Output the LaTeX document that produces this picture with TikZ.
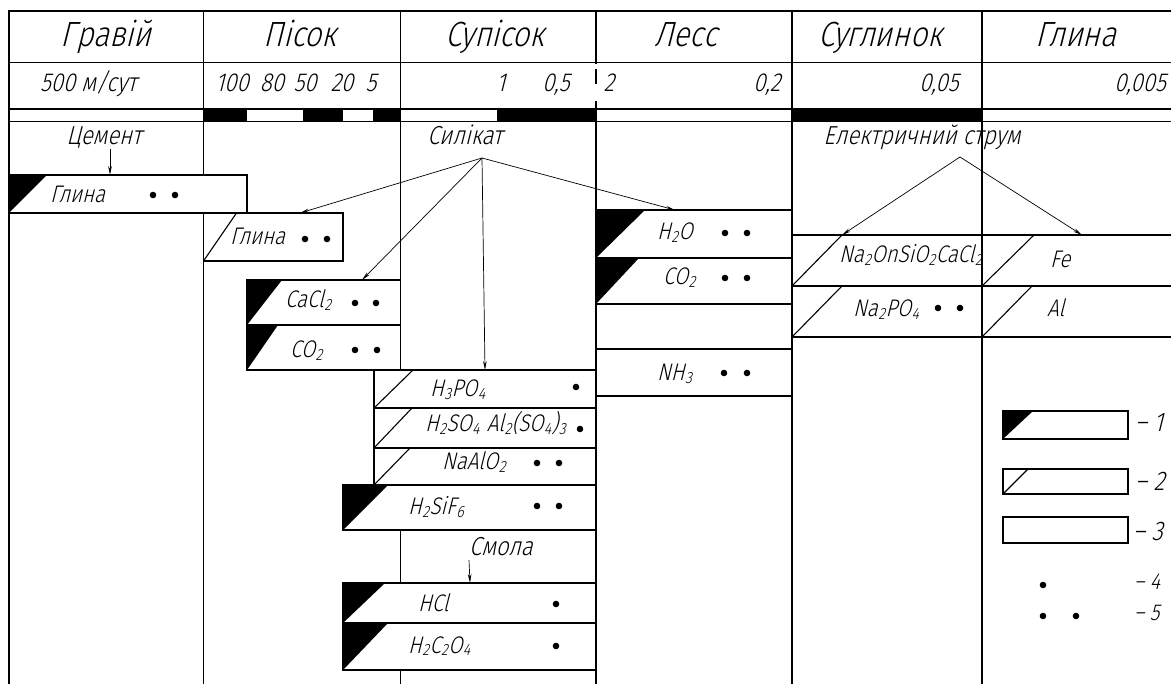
\documentclass[tikz,border=0pt]{standalone}
\usepackage{fontspec}
\IfFontExistsTF{Fira Sans Light}
  {\setmainfont{Fira Sans Light}[FakeSlant=0.25,FakeStretch=0.85]}
  {\setmainfont{Liberation Sans}[FakeSlant=0.25,FakeStretch=0.8]}
\usetikzlibrary{arrows.meta,fit}

% small lowered index for chemical formulas
\newcommand\lo[1]{\kern0.5pt\raisebox{-0.1em}{\scalebox{0.68}{#1}}\kern0.5pt}

\tikzset{
  grid/.style={line width=1.2pt, line cap=rect},
  cell/.style={draw, line width=1.2pt, fill=white, inner sep=0pt, outer sep=0pt},
  kindA/.style={cell, path picture={\fill[black] (path picture bounding box.north west) -- ++(#1,0) -- (path picture bounding box.south west) -- cycle;}},
  kindB/.style={cell, path picture={\draw[black, line width=1.1pt] (path picture bounding box.north west) ++(#1,0) -- (path picture bounding box.south west);}},
  kindC/.style={cell},
  title/.style={font=\fontsize{35}{37}\selectfont, anchor=base, inner sep=0pt},
  value/.style={font=\fontsize{26}{28}\selectfont, anchor=base west, inner sep=0pt},
  num/.style={font=\fontsize{26}{28}\selectfont, anchor=base, inner sep=0pt},
  agent/.style={font=\fontsize{26}{28}\selectfont, anchor=base, inner sep=0pt},
  chem/.style={font=\fontsize{24}{26}\selectfont, anchor=base west, inner sep=0pt},
  key/.style={font=\fontsize{27}{29}\selectfont, anchor=base west, inner sep=0pt},
  keysmall/.style={font=\fontsize{23}{25}\selectfont, anchor=base west, inner sep=0pt},
  flow/.style={line width=0.7pt, -{Stealth[length=9pt,width=3.6pt]}},
}
\newcommand\concdot[2]{\fill (#1,#2) circle (3.3);}

\begin{document}
\begin{tikzpicture}[x=1pt,y=-1pt]
\useasboundingbox (0,0) rectangle (1171,684);

% grading strip
\fill (203.5,109) rectangle (247,121.5);
\fill (302.7,109) rectangle (342.7,121.5);
\fill (373,109) rectangle (400.5,121.5);
\fill (497,109) rectangle (596,121.5);
\fill (792,109) rectangle (982,121.5);

% table frame
\draw[grid] (9,684) -- (9,11) -- (1180,11);
\draw[grid] (9,62.5) -- (1180,62.5);
\draw[grid] (9,109) -- (1180,109);
\draw[grid] (9,121.5) -- (1180,121.5);
\draw[grid] (203.5,11) -- (203.5,684);
\draw[grid] (400.5,11) -- (400.5,684);
\draw[grid] (596,11) -- (596,63) (596,70) -- (596,83) (596,102) -- (596,684);
\draw[grid] (792,11) -- (792,684);
\draw[grid] (982,11) -- (982,684);

% soil names
\node[title] (t1) at (106,47) {Гравій};
\node[title] (t2) at (300,47) {Пісок};
\node[title] (t3) at (495,47) {Супісок};
\node[title] (t4) at (686,47) {Лесс};
\node[title] (t5) at (880,47) {Суглинок};
\node[title] (t6) at (1076,47) {Глина};

% permeability values
\node[value] (v1) at (40,92) {500 м/сут};
\node[num] (v2) at (232,92) {100};
\node[num] (v3) at (272,92) {80};
\node[num] (v4) at (305,92) {50};
\node[num] (v5) at (342,92) {20};
\node[num] (v6) at (371,92) {5};
\node[num] (v7) at (501,92) {1};
\node[num] (v8) at (556,92) {0,5};
\node[num] (v9) at (609,92) {2};
\node[num] (v10) at (767,92) {0,2};
\node[num] (v11) at (939,92) {0,05};
\node[value, anchor=base east] (v12) at (1166,92) {0,005};

% agents
\node[agent] (cem) at (104,145) {Цемент};
\node[agent] (sil) at (465,145) {Силікат};
\node[agent] (el) at (922,145) {Електричний струм};
\node[agent] (res) at (501,555) {Смола};

% reagent cells
\node[kindA=38, fit={(9,175) (247,213)}] (gl1) {};
\node[kindB=33, fit={(203.5,213) (343,261)}] (gl2) {};
\node[kindA=35, fit={(247,280) (400.5,325)}] (cacl) {};
\node[kindA=31, fit={(247,325) (400.5,370)}] (co2a) {};
\node[kindB=39, fit={(374,370) (596,408)}] (hpo) {};
\node[kindB=38, fit={(374,408) (596,448)}] (hso) {};
\node[kindB=36, fit={(374,448) (596,485)}] (nal) {};
\node[kindA=45, fit={(343,485) (596,530)}] (hsf) {};
\node[kindA=42, fit={(343,583) (596,623)}] (hcl) {};
\node[kindA=45, fit={(343,623) (596,670)}] (hco) {};
\node[kindA=49, fit={(596,210) (792,258)}] (hwo) {};
\node[kindA=43, fit={(596,258) (792,304)}] (co2b) {};
\node[kindC, fit={(596,304) (792,349)}] (blank) {};
\node[kindC, fit={(596,349) (792,396)}] (amm) {};
\node[kindB=50, fit={(792,235) (982,286)}] (nsc) {};
\node[kindB=52, fit={(982,235) (1180,286)}] (fe) {};
\node[kindB=50, fit={(792,286) (982,337)}] (npo) {};
\node[kindB=50, fit={(982,286) (1180,337)}] (al) {};

% reagent names
\node[chem] (n1) at (50,203) {Глина};
\node[chem] (n2) at (230,245) {Глина};
\node[chem] (n3) at (285,308) {CaCl\lo{2}};
\node[chem] (n4) at (290,358) {CO\lo{2}};
\node[chem] (n5) at (430,397) {H\lo{3}PO\lo{4}};
\node[chem] (n6) at (425,432) {H\lo{2}SO\lo{4}\hspace{7pt}Al\lo{2}(SO\lo{4})\lo{3}};
\node[chem] (n7) at (442,470) {NaAlO\lo{2}};
\node[chem] (n8) at (408,515) {H\lo{2}SiF\lo{6}};
\node[chem] (n9) at (418,612) {HCl};
\node[chem] (n10) at (408,653) {H\lo{2}C\lo{2}O\lo{4}};
\node[chem] (n11) at (657,240) {H\lo{2}O};
\node[chem] (n12) at (663,285) {CO\lo{2}};
\node[chem] (n13) at (657,381) {NH\lo{3}};
\node[chem] (n14) at (839,263) {Na\lo{2}OnSiO\lo{2}CaCl\lo{2}};
\node[chem] (n15) at (1050,268) {Fe};
\node[chem] (n16) at (853,317) {Na\lo{2}PO\lo{4}};
\node[chem] (n17) at (1047,317) {Al};

% concentration marks
\concdot{153}{195}\concdot{175}{195}
\concdot{305}{239}\concdot{327}{239}
\concdot{355}{303}\concdot{376}{303}
\concdot{355}{350}\concdot{377}{350}
\concdot{576}{387}
\concdot{580}{429}
\concdot{537}{463}\concdot{559}{463}
\concdot{537}{506}\concdot{559}{506}
\concdot{556}{604}
\concdot{556}{646}
\concdot{725}{233}\concdot{747}{233}
\concdot{725}{278}\concdot{747}{278}
\concdot{724}{373}\concdot{747}{373}
\concdot{938}{308}\concdot{960}{308}

% arrows from agents to cells
\coordinate (cemsrc) at (110,149);
\coordinate (silsrc) at (482,158);
\coordinate (elsrc) at (960,157);
\coordinate (ressrc) at (469,560);
\coordinate (gl1in) at (110,175);
\coordinate (gl2in) at (300,213);
\coordinate (caclin) at (362,280);
\coordinate (hpoin) at (485,370);
\coordinate (hwoin) at (675,210);
\coordinate (nscin) at (842,235);
\coordinate (fein) at (1082,235);
\coordinate (hclin) at (470,583);
\draw[flow] (cemsrc) -- (gl1in);
\draw[flow] (silsrc) -- (gl2in);
\draw[flow] (silsrc) -- (caclin);
\draw[flow] (silsrc) -- (hpoin);
\draw[flow] (silsrc) -- (hwoin);
\draw[flow] (elsrc) -- (nscin);
\draw[flow] (elsrc) -- (fein);
\draw[flow] (ressrc) -- (hclin);

% legend
\node[kindA=30, fit={(1003,411) (1128,439)}] (k1) {};
\node[kindB=25, fit={(1003,469) (1128,494)}] (k2) {};
\node[kindC, fit={(1003,517) (1128,543)}] (k3) {};
\node[key] (l1) at (1135,432) {– 1};
\node[key] (l2) at (1135,491) {– 2};
\node[key] (l3) at (1133,540) {– 3};
\concdot{1043}{585}
\concdot{1043}{616}\concdot{1076}{616}
\node[keysmall] (l4) at (1134,590) {– 4};
\node[keysmall] (l5) at (1134,620) {– 5};
\end{tikzpicture}
\end{document}
